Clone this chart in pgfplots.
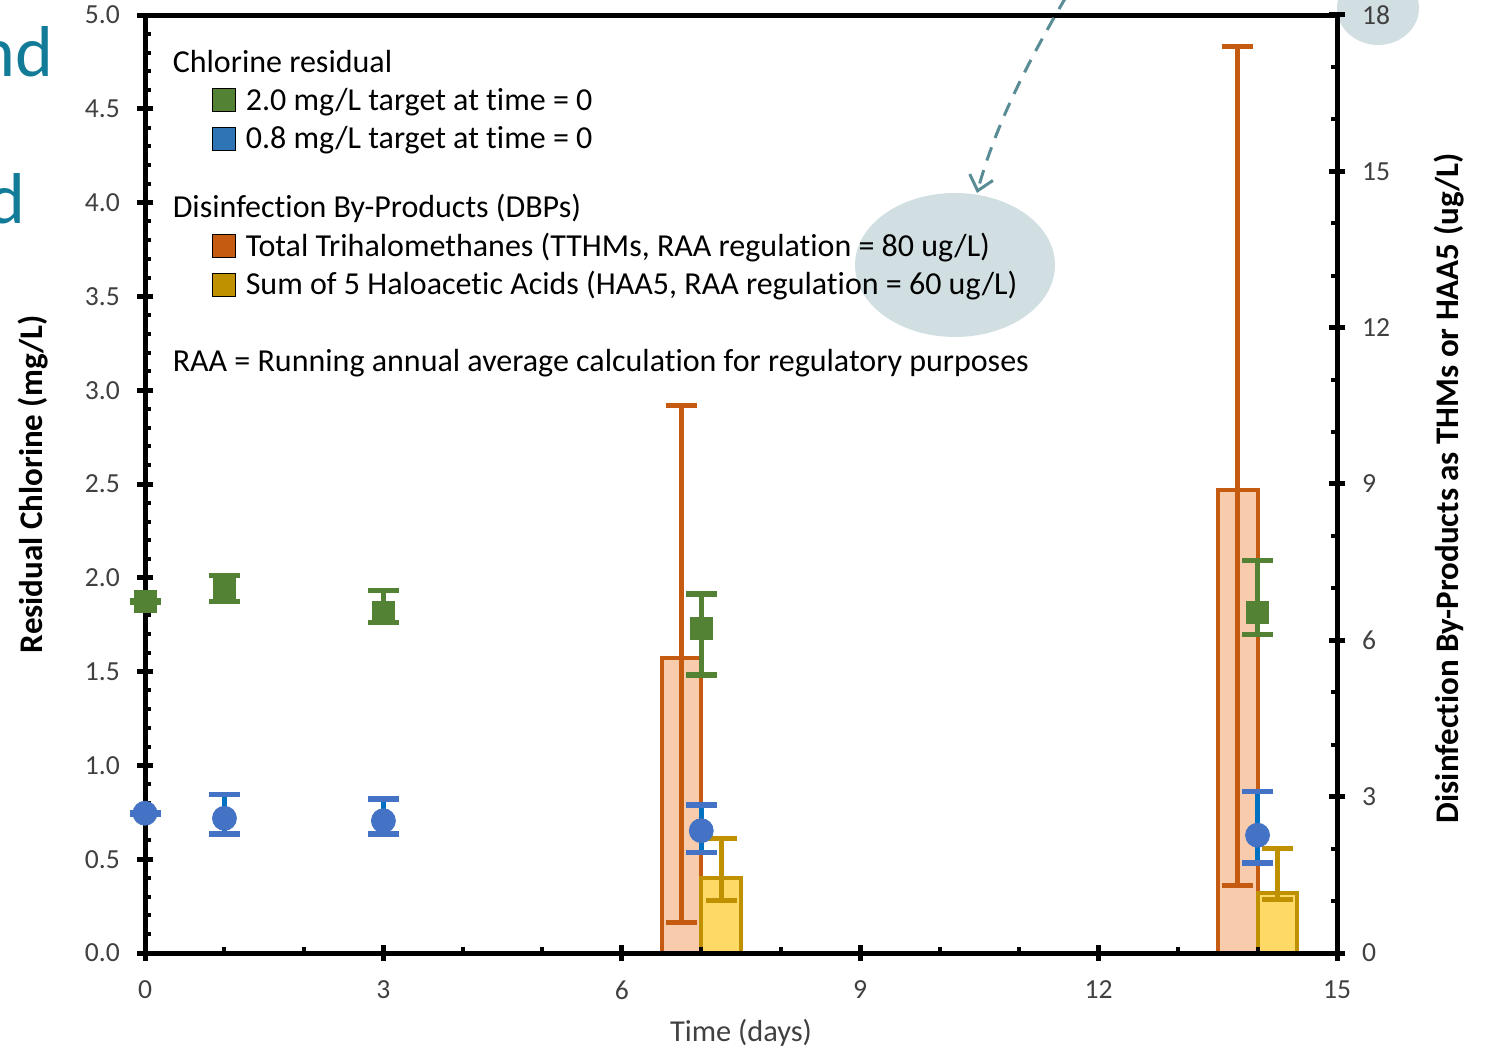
\documentclass[border=0pt]{standalone}
\usepackage{pgfplots}
\pgfplotsset{compat=1.18}
\usepackage{fontspec}
\setmainfont{Carlito}[Ligatures=NoCommon]
\usetikzlibrary{arrows.meta}
\definecolor{cgreen}{HTML}{548235}
\definecolor{cblue}{HTML}{4472C4}
\definecolor{cblueline}{HTML}{0070C0}
\definecolor{clegblue}{HTML}{2E75B6}
\definecolor{corange}{HTML}{C55A11}
\definecolor{corangefill}{HTML}{F8CBAD}
\definecolor{cgold}{HTML}{BF9000}
\definecolor{cyellowfill}{HTML}{FFD966}
\definecolor{cteal}{HTML}{127C98}
\definecolor{cellipse}{HTML}{D1DFE3}
\definecolor{carrow}{HTML}{5A8C96}
\definecolor{ctick}{HTML}{404040}
\pgfplotsset{
  commonaxis/.style={
    scale only axis, width=596pt, height=469pt,
    at={(72.5pt,48pt)}, anchor=south west,
    xmin=0, xmax=15,
    tick align=center,
    major tick length=8pt, minor tick length=3pt,
    every major tick/.append style={line width=2.5pt, black},
    every minor tick/.append style={line width=2pt, black},
    axis line style={line width=2.5pt, black},
    /pgf/number format/assume math mode=true,
    tick label style={font=\fontsize{13.8}{16}\selectfont, text=ctick},
  }
}
\begin{document}
\begin{tikzpicture}
\useasboundingbox (0,0) rectangle (745.5pt,524.5pt);
\clip (0,0) rectangle (745.5pt,524.5pt);
\begin{scope}[x=0.5pt,y=-0.5pt,shift={(0pt,524.5pt)}]
  \fill[cellipse] (955,265) ellipse [x radius=100, y radius=72];
  \fill[cellipse] (1378,8) ellipse [x radius=41, y radius=37];
  \node[anchor=base east, inner sep=0pt, text=cteal, font=\fontsize{36}{40}\selectfont] at (54,77) {nd};
  \node[anchor=base east, inner sep=0pt, text=cteal, font=\fontsize{36}{40}\selectfont] at (26,224) {d};
\end{scope}

% DBP axis (right)
\begin{axis}[commonaxis,
  ymin=0, ymax=18,
  axis x line=none, axis y line*=right,
  xtick=\empty,
  ytick={0,3,6,9,12,15,18}, minor y tick num=2,
  every minor y tick/.append style={xshift=-1.5pt},
  yticklabel style={anchor=west, xshift=5pt},
  every axis y label/.style={at={(rel axis cs:1.094,0.4957)}, rotate=90, anchor=center},
  ylabel={Disinfection By-Products as THMs or HAA5 (ug/L)},
  ylabel style={font=\fontsize{16.5}{20}\selectfont\bfseries, text=black},
]
\addplot[ybar, bar width=0.5, bar shift=0pt, fill=corangefill, draw=corange, line width=2pt, forget plot,
  error bars/.cd, y dir=both, y explicit,
  error bar style={line width=2.5pt, color=corange},
  error mark options={rotate=90, line width=2.5pt, mark size=7.75pt, color=corange}]
  table[x=x, y=y, y error plus=ep, y error minus=em] {
x y ep em
6.75 5.67 4.83 5.08
13.75 8.88 8.51 7.58
};
\addplot[ybar, bar width=0.5, bar shift=0pt, fill=cyellowfill, draw=cgold, line width=2pt, forget plot,
  error bars/.cd, y dir=both, y explicit,
  error bar style={line width=2.5pt, color=cgold},
  error mark options={rotate=90, line width=2.5pt, mark size=7.75pt, color=cgold}]
  table[x=x, y=y, y error plus=ep, y error minus=em] {
x y ep em
7.25 1.43 0.76 0.42
14.25 1.15 0.85 0.13
};
\end{axis}

% Chlorine axis (left)
\begin{axis}[commonaxis,
  ymin=0, ymax=5, clip=false,
  tick pos=left,
  xtick={0,3,6,9,12,15}, minor x tick num=2,
  ytick={0,0.5,1,1.5,2,2.5,3,3.5,4,4.5,5}, minor y tick num=4,
  every minor x tick/.append style={yshift=1.5pt},
  every minor y tick/.append style={xshift=1.5pt},
  xticklabel style={yshift=-6.5pt},
  yticklabel style={xshift=-5pt, /pgf/number format/.cd, fixed, fixed zerofill, precision=1},
  xlabel={Time (days)},
  xlabel style={at={(rel axis cs:0.5,-0.0853)}, anchor=center, font=\fontsize{15.2}{18}\selectfont, text=ctick},
  every axis y label/.style={at={(rel axis cs:-0.094,0.5)}, rotate=90, anchor=center},
  ylabel={Residual Chlorine (mg/L)},
  ylabel style={font=\fontsize{16.5}{20}\selectfont\bfseries, text=black},
  legend image code/.code={\fill[#1] (0pt,-5.75pt) rectangle (11.5pt,5.75pt);},
  legend cell align=left,
  legend style={at={(rel axis cs:0.0562,0.9704)}, anchor=north west,
    draw=none, fill=none, inner sep=0pt, outer sep=0pt,
    row sep=0pt, column sep=5pt,
    font=\fontsize{16}{19}\selectfont, text=black,
    nodes={inner sep=0pt, outer sep=0pt, text height=14.7pt, text depth=4.5pt}},
]
\addplot[only marks, mark=square*, color=cgreen, mark size=5.5pt, forget plot,
  error bars/.cd, y dir=both, y explicit,
  error bar style={line width=2.75pt, color=cgreen},
  error mark options={rotate=90, line width=2.75pt, mark size=7.75pt, color=cgreen}]
  table[x=x, y=y, y error plus=ep, y error minus=em] {
x y ep em
0 1.873 0.005 0.005
1 1.942 0.069 0.069
3 1.818 0.113 0.055
7 1.731 0.183 0.249
14 1.817 0.275 0.119
};
\addplot[only marks, mark=*, color=cblue, mark size=6pt, forget plot,
  error bars/.cd, y dir=both, y explicit,
  error bar style={line width=2.75pt, color=cblueline},
  error mark options={rotate=90, line width=2.75pt, mark size=7.75pt, color=cblue}]
  table[x=x, y=y, y error plus=ep, y error minus=em] {
x y ep em
0 0.745 0.005 0.005
1 0.718 0.128 0.084
3 0.705 0.116 0.071
7 0.652 0.136 0.116
14 0.628 0.232 0.149
};
\addlegendimage{empty legend}
\addlegendentry{\hspace*{-36.5pt}Chlorine residual}
\addlegendimage{fill=cgreen}
\addlegendentry{2.0 mg/L target at time = 0}
\addlegendimage{fill=clegblue}
\addlegendentry{0.8 mg/L target at time = 0}
\addlegendimage{empty legend}
\addlegendentry[text height=15.3pt, text depth=0pt]{}
\addlegendimage{empty legend}
\addlegendentry{\hspace*{-36.5pt}Disinfection By-Products (DBPs)}
\addlegendimage{fill=corange}
\addlegendentry{Total Trihalomethanes (TTHMs, RAA regulation = 80 ug/L)}
\addlegendimage{fill=cgold}
\addlegendentry{Sum of 5 Haloacetic Acids (HAA5, RAA regulation = 60 ug/L)}
\addlegendimage{empty legend}
\addlegendentry[text height=19.3pt, text depth=0pt]{}
\addlegendimage{empty legend}
\addlegendentry{\hspace*{-36.5pt}RAA = Running annual average calculation for regulatory purposes}
\end{axis}

\begin{scope}[x=0.5pt,y=-0.5pt,shift={(0pt,524.5pt)}]
  \draw[carrow, line width=1.5pt, dash pattern=on 7pt off 5pt, -{Straight Barb[length=7pt,width=12pt,line width=1.5pt]}]
    (1066,-3) .. controls (1032,55) and (997,120) .. (977,193);
\end{scope}
\end{tikzpicture}
\end{document}
